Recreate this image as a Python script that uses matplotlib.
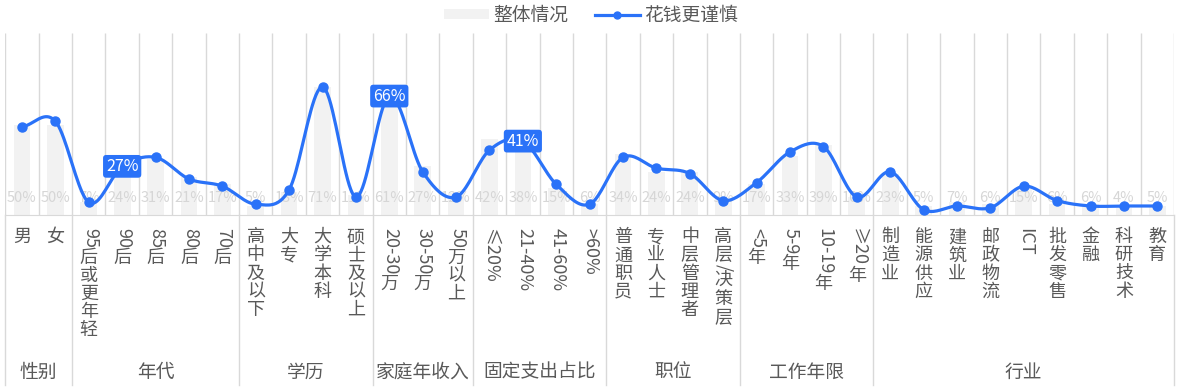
import numpy as np
import matplotlib.pyplot as plt
from matplotlib.transforms import blended_transform_factory
from matplotlib.patches import Patch
from matplotlib.lines import Line2D

plt.rcParams['font.family'] = ['Noto Sans CJK SC', 'DejaVu Sans']

W, H = 1182, 391

groups = ["性别", "年代", "学历", "家庭年收入", "固定支出占比", "职位", "工作年限", "行业"]
group_sizes = [2, 5, 4, 3, 4, 4, 4, 9]

categories = ["男", "女",
              "95后或更年轻", "90后", "85后", "80后", "70后",
              "高中及以下", "大专", "大学本科", "硕士及以上",
              "20-30万", "30-50万", "50万以上",
              "≤20%", "21-40%", "41-60%", ">60%",
              "普通职员", "专业人士", "中层管理者", "高层/决策层",
              "<5年", "5-9年", "10-19年", "≥20年",
              "制造业", "能源供应", "建筑业", "邮政物流", "ICT", "批发零售", "金融", "科研技术", "教育"]

overall = [50, 50, 7, 24, 31, 21, 17, 5, 13, 71, 11, 61, 27, 12, 42, 38, 15, 6,
           34, 24, 24, 9, 17, 33, 39, 10, 23, 5, 7, 6, 15, 6, 6, 4, 5]

cautious = [49, 52, 7, 27, 32, 20, 16, 6, 14, 71, 10, 66, 24, 10, 36, 41, 17, 6,
            32, 26, 23, 8, 18, 35, 38, 10, 24, 3, 5, 4, 16, 8, 5, 5, 5]

highlight = ["90后", "20-30万", "21-40%"]

blue = "#2A72F8"
grid_c = "#d9d9d9"
text_c = "#595959"


def smooth(xs, ys, n=20):
    # catmull-rom style curve through the points (like a smoothed line)
    xs = np.asarray(xs, float)
    ys = np.asarray(ys, float)
    px = np.concatenate([[2 * xs[0] - xs[1]], xs, [2 * xs[-1] - xs[-2]]])
    py = np.concatenate([[ys[0]], ys, [ys[-1]]])
    out_x, out_y = [], []
    t = np.linspace(0, 1, n, endpoint=False)
    for i in range(1, len(px) - 2):
        m0x = (px[i + 1] - px[i - 1]) / 2
        m1x = (px[i + 2] - px[i]) / 2
        m0y = (py[i + 1] - py[i - 1]) / 2
        m1y = (py[i + 2] - py[i]) / 2
        h00 = 2 * t**3 - 3 * t**2 + 1
        h10 = t**3 - 2 * t**2 + t
        h01 = -2 * t**3 + 3 * t**2
        h11 = t**3 - t**2
        out_x.append(h00 * px[i] + h10 * m0x + h01 * px[i + 1] + h11 * m1x)
        out_y.append(h00 * py[i] + h10 * m0y + h01 * py[i + 1] + h11 * m1y)
    out_x.append([xs[-1]])
    out_y.append([ys[-1]])
    return np.concatenate(out_x), np.concatenate(out_y)


fig = plt.figure(figsize=(W / 100, H / 100), dpi=100)
left_px, right_px, top_px, bot_px = 5.3, 1174, 33, 215
ax = fig.add_axes([left_px / W, 1 - bot_px / H, (right_px - left_px) / W, (bot_px - top_px) / H])

n = len(categories)
x = np.arange(n)
ax.set_xlim(-0.5, n - 0.5)
ax.set_ylim(0, 101)

ax.vlines(np.arange(n + 1) - 0.5, 0, 101, color=grid_c, lw=1, zorder=0)
ax.bar(x, overall, width=0.5, color="#f2f2f2", zorder=1)

bt = blended_transform_factory(ax.transData, ax.transAxes)
for xi, v in zip(x, overall):
    ax.text(xi, 0.093, f"{v}%", transform=bt, ha="center", va="center",
            fontsize=10.5, color="#d6d6d6", zorder=2)

sx, sy = smooth(x, cautious)
ax.plot(sx, sy, color=blue, lw=2.3, zorder=3, solid_capstyle="round")
ax.plot(x, cautious, "o", color=blue, ms=6.5, zorder=4)

for lab in highlight:
    i = categories.index(lab)
    ax.text(i, cautious[i], f"{cautious[i]}%", ha="center", va="center",
            fontsize=11.5, color="white", zorder=5,
            bbox=dict(boxstyle="round,pad=0.18,rounding_size=0.2", fc=blue, ec="none"))

for s in ["top", "right", "left"]:
    ax.spines[s].set_visible(False)
ax.spines["bottom"].set_color(grid_c)
ax.set_xticks([])
ax.set_yticks([])

# group separators below the axis
sep = np.concatenate([[0], np.cumsum(group_sizes)]) - 0.5
for b in sep:
    ax.plot([b, b], [0, -(385 - bot_px) / (bot_px - top_px)], transform=bt,
            color=grid_c, lw=1, clip_on=False)


def fx(px):
    return px / W


def fy(py):
    return 1 - py / H


# category labels written vertically
fig.canvas.draw()
renderer = fig.canvas.get_renderer()
fs = 13
char_h = 18.2
for i, lab in enumerate(categories):
    cx = left_px + (right_px - left_px) / n * (i + 0.5)
    y = 228.0
    runs = []
    for ch in lab:
        cjk = ord(ch) > 0x2E80
        if runs and not cjk and not runs[-1][0]:
            runs[-1][1] += ch
        else:
            runs.append([cjk, ch])
    for cjk, s in runs:
        if cjk:
            fig.text(fx(cx), fy(y + char_h / 2), s, ha="center", va="center",
                     fontsize=fs, color=text_c)
            y += char_h
        else:
            t = fig.text(fx(cx + 1), fy(y), s, ha="center", va="top", rotation=-90,
                         fontsize=fs, color=text_c)
            bb = t.get_window_extent(renderer)
            y += bb.height + 0.5

# group labels
start = 0
for g, size in zip(groups, group_sizes):
    gx = left_px + (right_px - left_px) / n * (start + size / 2)
    fig.text(fx(gx), fy(372), g, ha="center", va="center", fontsize=13.5, color=text_c)
    start += size

handles = [Patch(facecolor="#f2f2f2", edgecolor="none"),
           Line2D([0], [0], color=blue, lw=2.3, marker="o", ms=5)]
fig.legend(handles, ["整体情况", "花钱更谨慎"], loc="center", bbox_to_anchor=(0.5, fy(15)),
           ncol=2, frameon=False, fontsize=13.5, labelcolor=text_c,
           handlelength=2.4, handleheight=0.45, handletextpad=0.25, columnspacing=1.4)

fig.savefig("out.png", dpi=100)
